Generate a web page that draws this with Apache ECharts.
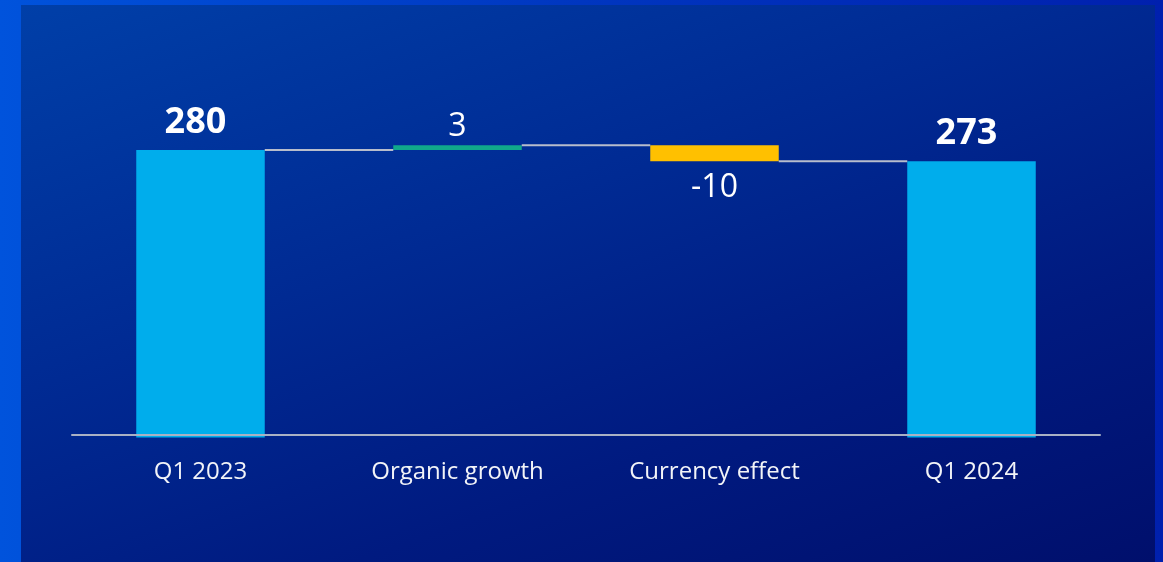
<!DOCTYPE html>
<html>
<head>
<meta charset="utf-8">
<script src="https://cdn.jsdelivr.net/npm/echarts@6/dist/echarts.min.js"></script>
<style>
  html, body { margin: 0; padding: 0; width: 1163px; height: 562px; overflow: hidden; }
  body { background: linear-gradient(90deg, #0053dc 0%, #0036c0 50%, #0020ae 100%); position: relative; }
  #panel {
    position: absolute; left: 21px; top: 5px; width: 1134px; height: 557px;
    background: linear-gradient(160deg, #003fa8 0%, #002a93 40%, #001a80 70%, #000f6c 100%);
  }
  #chart { position: absolute; left: 0; top: 0; width: 1163px; height: 562px; }
</style>
</head>
<body>
<div id="panel"></div>
<div id="chart"></div>
<script>
// Revenue bridge, Q1 2023 -> Q1 2024
const categories = ['Q1 2023', 'Organic growth', 'Currency effect', 'Q1 2024'];
const kinds      = ['total', 'delta', 'delta', 'total'];
const values     = [280, 3, -10, 273];

const colors = { total: '#00adec', up: '#10a98b', down: '#ffc000' };
const FONT = '"Open Sans", "Liberation Sans", sans-serif';

// Build the waterfall: invisible base + visible segment, plus running levels for connectors
const baseData = [], barData = [], levels = [];
let running = 0;
values.forEach((v, i) => {
  if (kinds[i] === 'total') {
    running = v;
    baseData.push(0);
    barData.push({
      value: v,
      itemStyle: { color: colors.total },
      label: { show: true, position: 'top', distance: 9, offset: [-5, 0], formatter: String(v),
               fontSize: 36, fontWeight: 'bold', color: '#ffffff', fontFamily: FONT }
    });
  } else {
    const from = running;
    running = running + v;
    baseData.push(Math.min(from, running));
    barData.push({
      value: Math.abs(v),
      itemStyle: { color: v >= 0 ? colors.up : colors.down },
      label: { show: true, position: v >= 0 ? 'top' : 'bottom', distance: v >= 0 ? 2 : 11,
               formatter: String(v), fontSize: 32, color: '#ffffff', fontFamily: FONT }
    });
  }
  levels.push(running);
});
const connectorData = levels.slice(0, -1).map((lvl, i) => [i, lvl]);

const chart = echarts.init(document.getElementById('chart'), null, { renderer: 'canvas' });
chart.setOption({
  backgroundColor: 'transparent',
  animation: false,
  grid: { left: 72, right: 63, top: 118, bottom: 124.5, containLabel: false },
  xAxis: {
    type: 'category',
    data: categories,
    offset: -2.5,
    z: 10,
    axisLine: { show: true, lineStyle: { color: '#a9b1c4', width: 2 } },
    axisTick: { show: false },
    axisLabel: { color: '#f2f4f8', fontSize: 24, fontFamily: FONT, margin: 25 }
  },
  yAxis: {
    type: 'value',
    min: 100,
    max: 300,
    show: false,
    splitLine: { show: false }
  },
  series: [
    {
      type: 'bar', stack: 'bridge', barWidth: '50%',
      itemStyle: { color: 'transparent' },
      emphasis: { disabled: true },
      data: baseData
    },
    {
      type: 'bar', stack: 'bridge', barWidth: '50%',
      data: barData
    },
    {
      type: 'custom',
      z: 5,
      data: connectorData,
      renderItem: function (params, api) {
        const i = api.value(0), lvl = api.value(1);
        const p0 = api.coord([i, lvl]);
        const p1 = api.coord([i + 1, lvl]);
        const half = api.size([1, 0])[0] * 0.25;
        return {
          type: 'line',
          shape: { x1: p0[0] + half, y1: p0[1], x2: p1[0] - half, y2: p1[1] },
          style: { stroke: '#b7bdcc', lineWidth: 2 }
        };
      }
    }
  ]
});
</script>
</body>
</html>
